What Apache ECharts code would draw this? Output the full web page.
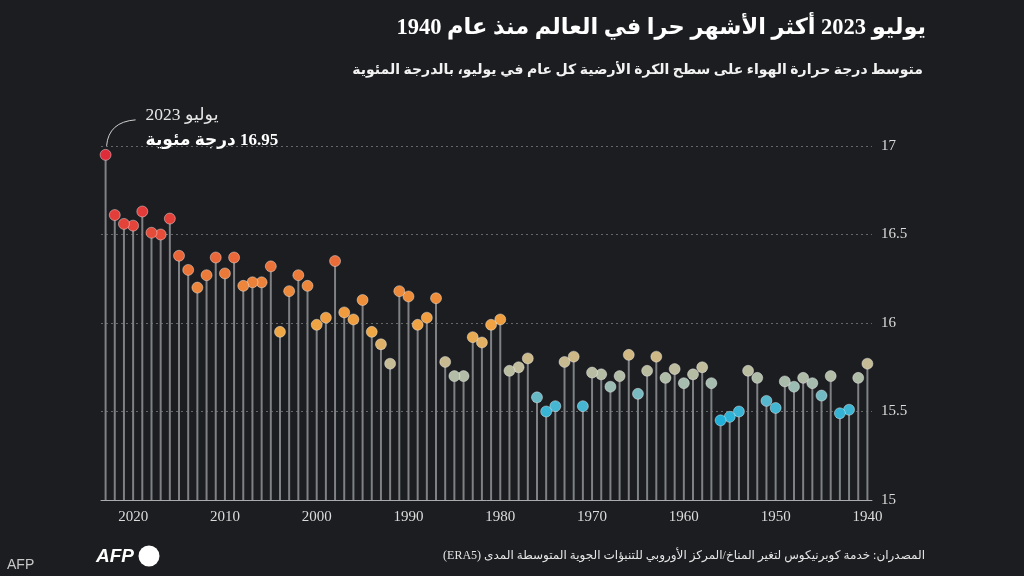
<!DOCTYPE html>
<html dir="rtl">
<head>
<meta charset="utf-8">
<script src="https://cdn.jsdelivr.net/npm/echarts@6/dist/echarts.min.js"></script>
<style>
  html, body { margin: 0; padding: 0; background: #1b1d20; }
  #chart { width: 1024px; height: 576px; }
</style>
</head>
<body>
<div id="chart"></div>
<script>
// النصوص
const titleText = 'يوليو 2023 أكثر الأشهر حرا في العالم منذ عام 1940';
const subtitleText = 'متوسط درجة حرارة الهواء على سطح الكرة الأرضية كل عام في يوليو، بالدرجة المئوية';
const sourceText = 'المصدران: خدمة كوبرنيكوس لتغير المناخ/المركز الأوروبي للتنبؤات الجوية المتوسطة المدى \u200E(ERA5)\u200E';
const noteMonth = 'يوليو 2023';
const noteValue = '16.95 درجة مئوية';

// السنوات 1940 - 2023
const years = [];
for (let y = 1940; y <= 2023; y++) years.push(String(y));

// متوسط درجة الحرارة في يوليو
const julyTemps = [
  15.77, 15.69, 15.51, 15.49, 15.70, 15.59, 15.66, 15.69, 15.64, 15.67, // 1940s
  15.52, 15.56, 15.69, 15.73, 15.50, 15.47, 15.45, 15.66, 15.75, 15.71, // 1950s
  15.66, 15.74, 15.69, 15.81, 15.73, 15.60, 15.82, 15.70, 15.64, 15.71, // 1960s
  15.72, 15.53, 15.81, 15.78, 15.53, 15.50, 15.58, 15.80, 15.75, 15.73, // 1970s
  16.02, 15.99, 15.89, 15.92, 15.70, 15.70, 15.78, 16.14, 16.03, 15.99, // 1980s
  16.15, 16.18, 15.77, 15.88, 15.95, 16.13, 16.02, 16.06, 16.35, 16.03, // 1990s
  15.99, 16.21, 16.27, 16.18, 15.95, 16.32, 16.23, 16.23, 16.21, 16.37, // 2000s
  16.28, 16.37, 16.27, 16.20, 16.30, 16.38, 16.59, 16.50, 16.51, 16.63, // 2010s
  16.55, 16.56, 16.61, 16.95                                            // 2020s
];

const yTicks = [15, 15.5, 16, 16.5, 17];
const tempColors = [
  '#22b0d8', '#4fb8d0', '#a3bcb0', '#c0bc9c', '#d8b677', '#eea744', '#f09c3e', '#ee8d3a',
  '#ec7f3a', '#ea6c38', '#e65538', '#e4443a', '#e23a3a', '#e1343a', '#e0303a', '#df2c3a'
];

const serif = "'Liberation Serif', 'DejaVu Serif', serif";
const arabic = "'Liberation Serif', 'DejaVu Sans', sans-serif";

const chart = echarts.init(document.getElementById('chart'));

chart.setOption({
  backgroundColor: '#1b1d20',
  animation: false,
  grid: { left: 101, right: 152, top: 146, bottom: 76 },
  xAxis: {
    type: 'category',
    data: years,
    inverse: true,
    axisLine: { lineStyle: { color: '#a9abad', width: 1 } },
    axisTick: {
      alignWithLabel: true,
      length: 5,
      interval: (i, v) => +v % 10 === 0,
      lineStyle: { color: '#a9abad' }
    },
    axisLabel: {
      interval: (i, v) => +v % 10 === 0,
      color: '#dcdcdc',
      fontFamily: serif,
      fontSize: 15,
      margin: 10
    }
  },
  yAxis: {
    type: 'value',
    position: 'right',
    min: yTicks[0],
    max: yTicks[yTicks.length - 1],
    interval: 0.5,
    axisLine: { show: false },
    axisTick: { show: false },
    splitLine: { lineStyle: { color: '#64676a', type: [2, 3], width: 1 } },
    axisLabel: {
      color: '#dcdcdc',
      fontFamily: serif,
      fontSize: 15,
      margin: 9
    }
  },
  visualMap: {
    show: false,
    type: 'continuous',
    seriesIndex: 1,
    dimension: 1,
    min: 15.45,
    max: 16.95,
    inRange: { color: tempColors }
  },
  series: [
    {
      type: 'bar',
      data: julyTemps,
      barWidth: 2,
      silent: true,
      itemStyle: { color: '#7f8184' }
    },
    {
      type: 'scatter',
      data: julyTemps.map((v, i) => [years[i], v]),
      symbolSize: 11,
      itemStyle: { borderColor: 'rgba(255,255,255,0.4)', borderWidth: 1, opacity: 1 },
      z: 5
    }
  ]
});

// التعليق على 2023
const last = julyTemps.length - 1;
const [px, py] = chart.convertToPixel({ gridIndex: 0 }, [years[last], julyTemps[last]]);

chart.setOption({
  graphic: [
    { type: 'text', style: { text: titleText, x: 926, y: 28, textAlign: 'right', textVerticalAlign: 'middle',
        font: 'bold 22.5px ' + arabic, fill: '#ffffff' } },
    { type: 'text', style: { text: subtitleText, x: 923, y: 70, textAlign: 'right', textVerticalAlign: 'middle',
        font: 'bold 14px ' + arabic, fill: '#f2f2f2' } },
    { type: 'text', style: { text: noteMonth, x: px + 40, y: py - 39, textAlign: 'left', textVerticalAlign: 'middle',
        font: '17.5px ' + arabic, fill: '#e6e6e6' } },
    { type: 'text', style: { text: noteValue, x: px + 40, y: py - 14, textAlign: 'left', textVerticalAlign: 'middle',
        font: 'bold 17px ' + arabic, fill: '#ffffff' } },
    { type: 'bezierCurve',
      shape: { x1: px + 1, y1: py - 9, cpx1: px + 3, cpy1: py - 33, x2: px + 30, y2: py - 35 },
      style: { stroke: '#cfcfcf', lineWidth: 1, fill: null } },
    { type: 'text', style: { text: sourceText, x: 925, y: 556, textAlign: 'right', textVerticalAlign: 'middle',
        font: '12px ' + arabic, fill: '#e6e6e6' } },
    { type: 'text', style: { text: 'AFP', x: 96, y: 557, textAlign: 'left', textVerticalAlign: 'middle',
        font: 'italic bold 19px "Liberation Sans", sans-serif', fill: '#ffffff' } },
    { type: 'circle', shape: { cx: 149, cy: 556, r: 10.5 }, style: { fill: '#ffffff' } },
    { type: 'text', style: { text: 'AFP', x: 7, y: 565, textAlign: 'left', textVerticalAlign: 'middle',
        font: '14px "Liberation Sans", sans-serif', fill: '#c8c8c8' } }
  ]
});
</script>
</body>
</html>
